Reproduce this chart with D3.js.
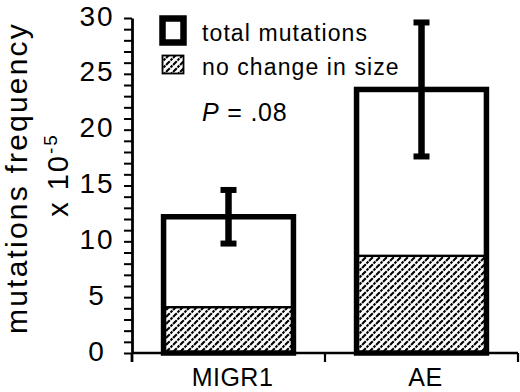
<!DOCTYPE html>
<html>
<head>
<meta charset="utf-8">
<script src="https://cdn.jsdelivr.net/npm/d3@7"></script>
<style>
  body { margin: 0; background: #fff; }
  svg { display: block; font-family: "Liberation Sans", Arial, sans-serif; }
</style>
</head>
<body>
<svg id="drawing_region"></svg>
<script>
// values
const categories = ["MIGR1", "AE"];
const totalMutations = [12.2, 23.6];
const noChangeInSize = [4.1, 8.7];
const errorValues = [2.4, 6.0];
const legendLabels = ["total mutations", "no change in size"];
const pLabel = ".08";

var config = {
    parent: '#drawing_region',
    width: 520,
    height: 392,
    xLeft: 132, xRight: 518,
    yTop: 18, yBottom: 353
};

class MutationChart {

    constructor(config) {
        this.config = config;
        this.init();
    }

    init() {
        let self = this;

        self.svg = d3.select(self.config.parent)
            .attr('width', self.config.width)
            .attr('height', self.config.height);

        // hatch for "no change in size"
        const defs = self.svg.append('defs');
        defs.append('pattern')
            .attr('id', 'hatch')
            .attr('patternUnits', 'userSpaceOnUse')
            .attr('width', 7)
            .attr('height', 7)
            .append('path')
            .attr('d', 'M-1,1 l2,-2 M0,7 l7,-7 M6,8 l2,-2')
            .attr('stroke', 'black')
            .attr('stroke-width', 2.1)
            .attr('stroke-dasharray', '2.6 1');

        self.x = d3.scaleBand()
            .domain(categories)
            .range([self.config.xLeft, self.config.xRight])
            .padding(0);

        self.y = d3.scaleLinear()
            .domain([0, 30])
            .range([self.config.yBottom, self.config.yTop]);
    }

    render() {
        let self = this;
        const x = self.x, y = self.y;
        const bw = x.bandwidth();
        const barW = bw * 0.673;
        const rows = categories.map((c, i) => ({
            cat: c, total: totalMutations[i], same: noChangeInSize[i], err: errorValues[i]
        }));
        const bx = d => x(d.cat) + (bw - barW) / 2;

        // y axis with unit ticks, labels every 5
        const yAxis = d3.axisLeft(y)
            .tickValues(d3.range(0, 31))
            .tickSize(8)
            .tickSizeOuter(0)
            .tickFormat(d => d % 5 === 0 ? d : '');

        const ya = self.svg.append('g')
            .attr('transform', `translate(${self.config.xLeft},0)`)
            .call(yAxis);
        ya.select('.domain').attr('stroke-width', 2.8);
        ya.selectAll('.tick line').attr('stroke-width', 2);
        ya.selectAll('.tick text')
            .attr('x', 97 - self.config.xLeft)
            .attr('dy', '0.25em')
            .attr('text-anchor', 'middle')
            .attr('font-size', 28)
            .attr('letter-spacing', 2)
            .attr('fill', 'black');

        // x axis line and band ticks
        const bounds = [x(categories[0])].concat(categories.map(c => x(c) + bw));
        self.svg.append('line')
            .attr('x1', self.config.xLeft).attr('x2', self.config.xRight)
            .attr('y1', y(0)).attr('y2', y(0))
            .attr('stroke', 'black').attr('stroke-width', 2.5);
        self.svg.selectAll('.xtick')
            .data(bounds)
            .enter()
            .append('line')
            .attr('x1', d => d).attr('x2', d => d)
            .attr('y1', y(0)).attr('y2', y(0) + 9)
            .attr('stroke', 'black')
            .attr('stroke-width', (d, i) => i === 0 ? 2.8 : 2.2);

        // bars
        self.svg.selectAll('.bar-bg')
            .data(rows).enter().append('rect')
            .attr('x', bx).attr('width', barW)
            .attr('y', d => y(d.total)).attr('height', d => y(0) - y(d.total))
            .attr('fill', 'white');

        self.svg.selectAll('.bar-same')
            .data(rows).enter().append('rect')
            .attr('x', bx).attr('width', barW)
            .attr('y', d => y(d.same)).attr('height', d => y(0) - y(d.same))
            .attr('fill', 'url(#hatch)')
            .attr('stroke', 'black').attr('stroke-width', 2.4);

        self.svg.selectAll('.bar-total')
            .data(rows).enter().append('rect')
            .attr('x', bx).attr('width', barW)
            .attr('y', d => y(d.total)).attr('height', d => y(0) - y(d.total))
            .attr('fill', 'none')
            .attr('stroke', 'black').attr('stroke-width', 5.5);

        // error bars
        const cx = d => x(d.cat) + bw / 2;
        const eb = self.svg.selectAll('.err').data(rows).enter().append('g');
        eb.append('line')
            .attr('x1', cx).attr('x2', cx)
            .attr('y1', d => y(d.total + d.err)).attr('y2', d => y(d.total - d.err))
            .attr('stroke', 'black').attr('stroke-width', 6.5);
        eb.selectAll('.cap')
            .data(d => [d.total + d.err, d.total - d.err].map(v => ({ v: v, c: cx(d) })))
            .enter().append('line')
            .attr('x1', d => d.c - 8).attr('x2', d => d.c + 8)
            .attr('y1', d => y(d.v)).attr('y2', d => y(d.v))
            .attr('stroke', 'black').attr('stroke-width', 6);

        // category labels
        self.svg.selectAll('.xlab')
            .data(categories).enter().append('text')
            .attr('x', d => x(d) + bw / 2 + 4)
            .attr('y', 386)
            .attr('text-anchor', 'middle')
            .attr('font-size', 25)
            .attr('letter-spacing', 0.5)
            .attr('fill', 'black')
            .text(d => d);

        // y axis title
        const yt = self.svg.append('text')
            .attr('transform', 'rotate(-90)')
            .attr('text-anchor', 'middle')
            .attr('fill', 'black');
        yt.append('tspan')
            .attr('x', -178).attr('y', 27)
            .attr('font-size', 30)
            .attr('letter-spacing', 2.2)
            .text('mutations frequency');
        const l2 = self.svg.append('text')
            .attr('transform', 'rotate(-90)')
            .attr('x', -175).attr('y', 68)
            .attr('text-anchor', 'middle')
            .attr('font-size', 29)
            .attr('letter-spacing', 2)
            .attr('fill', 'black');
        l2.append('tspan').text('x 10');
        l2.append('tspan').attr('font-size', 19).attr('dy', -11).text('-5');

        // legend
        self.svg.append('rect')
            .attr('x', 162.5).attr('y', 18.5).attr('width', 21).attr('height', 24)
            .attr('fill', 'white').attr('stroke', 'black').attr('stroke-width', 6.5);
        self.svg.append('rect')
            .attr('x', 162.5).attr('y', 55.5).attr('width', 21).attr('height', 18)
            .attr('fill', 'url(#hatch)').attr('stroke', 'black').attr('stroke-width', 1.8);
        self.svg.selectAll('.leg')
            .data(legendLabels).enter().append('text')
            .attr('x', 202)
            .attr('y', (d, i) => 41 + i * 34)
            .attr('font-size', 23)
            .attr('letter-spacing', 1.1)
            .attr('fill', 'black')
            .text(d => d);

        const pt = self.svg.append('text')
            .attr('x', 202).attr('y', 121)
            .attr('font-size', 25)
            .attr('letter-spacing', 0.8)
            .attr('fill', 'black');
        pt.append('tspan').attr('font-style', 'italic').text('P');
        pt.append('tspan').text(' = ' + pLabel);
    }
}

const chart = new MutationChart(config);
chart.render();
</script>
</body>
</html>
